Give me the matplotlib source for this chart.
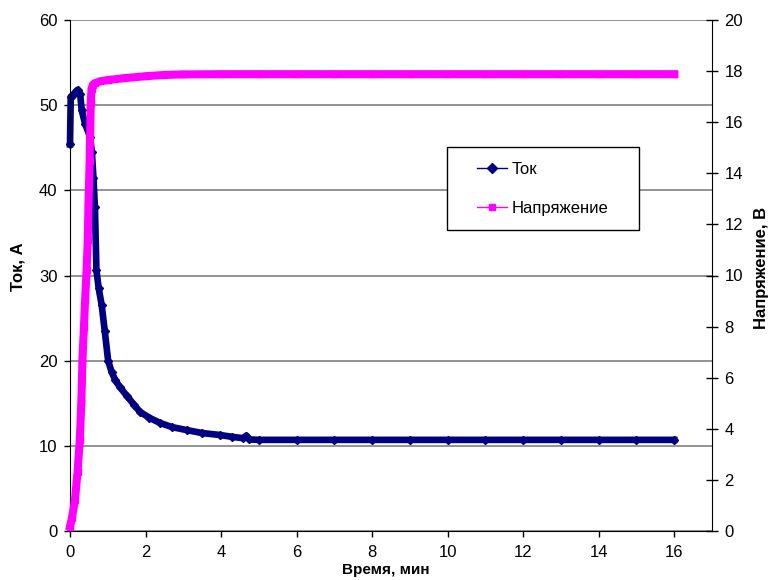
import matplotlib
matplotlib.use("Agg")
import matplotlib.pyplot as plt
from matplotlib.lines import Line2D
from matplotlib.patches import Rectangle

plt.rcParams["font.family"] = ["Liberation Sans", "DejaVu Sans"]
plt.rcParams["font.size"] = 12

# current, A (left axis)
t_cur = [0.0, 0.02, 0.08, 0.15, 0.2, 0.27, 0.31, 0.4, 0.53, 0.58, 0.62, 0.66, 0.7,
         0.76, 0.84, 0.92, 1.01, 1.1, 1.2, 1.32, 1.5, 1.7, 1.85, 2.1, 2.38, 2.7,
         3.09, 3.5, 3.97, 4.3, 4.58, 4.67, 4.75, 5, 6, 7, 8, 9, 10, 11, 12, 13,
         14, 15, 16]
cur = [45.4, 51.0, 51.2, 51.6, 51.8, 51.3, 49.4, 47.8, 46.3, 44.5, 41.5, 38.0, 30.6,
       28.5, 26.5, 23.5, 20.0, 18.7, 17.7, 16.9, 15.9, 14.8, 14.0, 13.3, 12.7, 12.2,
       11.85, 11.5, 11.27, 11.05, 10.9, 11.2, 10.75, 10.7, 10.7, 10.7, 10.7, 10.7,
       10.7, 10.7, 10.7, 10.7, 10.7, 10.7, 10.7]

# voltage, V (right axis)
t_volt = [0.0, 0.05, 0.13, 0.2, 0.26, 0.3, 0.33, 0.37, 0.4, 0.44, 0.47, 0.49, 0.52,
          0.55, 0.57, 0.6, 0.65, 0.8, 1.0, 1.41, 2.0, 2.5, 3, 4, 5, 6, 7, 8, 9,
          10, 11, 12, 13, 14, 15, 16]
volt = [0.17, 0.5, 1.2, 2.3, 3.56, 5.0, 6.7, 8.0, 9.04, 10.2, 11.4, 12.8, 14.5,
        16.75, 17.3, 17.45, 17.52, 17.6, 17.65, 17.72, 17.8, 17.85, 17.87, 17.88,
        17.88, 17.88, 17.88, 17.88, 17.88, 17.88, 17.88, 17.88, 17.88, 17.88,
        17.88, 17.88]

x_ticks = [0, 2, 4, 6, 8, 10, 12, 14, 16]
left_ticks = [0, 10, 20, 30, 40, 50, 60]
right_ticks = [0, 2, 4, 6, 8, 10, 12, 14, 16, 18, 20]

navy = "#000080"
pink = "#FF00FF"

fig = plt.figure(figsize=(7.7, 5.8), dpi=100)
ax = fig.add_axes([0.0909, 0.0845, 0.8338, 0.881])
ax2 = ax.twinx()

ax.plot(t_cur, cur, color=navy, lw=4.8, marker="D", markersize=3.6,
        solid_joinstyle="round", clip_on=False)
ax2.plot(t_volt, volt, color=pink, lw=5.8, marker="s", markersize=4,
         solid_joinstyle="round", clip_on=False)

ax.set_xlim(0, 17)
ax.set_ylim(0, 60)
ax2.set_ylim(0, 20)
ax.set_xticks(x_ticks)
ax.set_yticks(left_ticks)
ax2.set_yticks(right_ticks)

ax.set_axisbelow(True)
ax.yaxis.grid(True, color="#808080", lw=1.2)
for s in ("left", "bottom"):
    ax.spines[s].set_color("black")
ax.spines["top"].set_visible(False)
ax.spines["right"].set_visible(False)
ax2.spines["top"].set_visible(False)
ax2.spines["left"].set_visible(False)
ax2.spines["bottom"].set_visible(False)
ax2.spines["right"].set_color("black")

ax.tick_params(axis="y", direction="out", length=4, width=1, pad=5, labelsize=12)
ax.tick_params(axis="x", direction="out", length=4, width=1, pad=6, labelsize=12)
ax2.tick_params(axis="y", direction="inout", length=8, width=1, pad=5, labelsize=12)

ax.set_ylabel("Ток, А", fontweight="bold", fontsize=12)
ax.yaxis.set_label_coords(-0.070, 0.517)
ax2.set_ylabel("Напряжение, В", fontweight="bold", fontsize=12)
ax2.yaxis.set_label_coords(1.0654, 0.515)
ax.set_xlabel("Время, мин", fontweight="bold", fontsize=11)
ax.xaxis.set_label_coords(0.492, -0.0625)

# legend box
ax2.add_patch(Rectangle((0.587, 0.589), 0.299, 0.1625, transform=ax2.transAxes,
                        facecolor="white", edgecolor="black", lw=1, zorder=4))
handles = [Line2D([], [], color=navy, lw=1, marker="D", markersize=5),
           Line2D([], [], color=pink, lw=1, marker="s", markersize=5)]
leg = ax2.legend(handles, ["Ток", "Напряжение"], loc="center",
                 bbox_to_anchor=(0.7365, 0.670), frameon=False, fontsize=12,
                 handlelength=1.8, handletextpad=0.3, labelspacing=1.45)
leg.set_zorder(5)

fig.savefig("out.png", dpi=100)
